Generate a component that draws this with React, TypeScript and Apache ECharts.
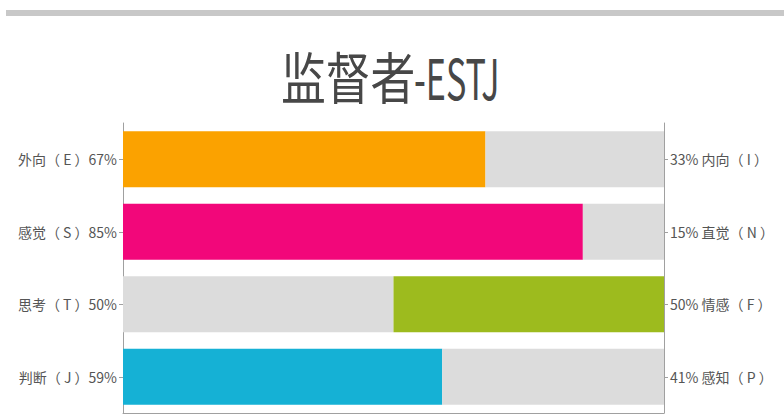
import React, { useEffect, useRef } from "react";
import * as echarts from "echarts";

const titleCjk = "监督者";
const titleLatin = "-ESTJ";
const leftNames = ["外向（ E ）", "感觉（ S ）", "思考（ T ）", "判断（ J ）"];
const rightNames = ["内向（ I ）", "直觉（ N ）", "情感（ F ）", "感知（ P ）"];
const leftValues = [67, 85, 50, 59];
const rightValues = [33, 15, 50, 41];
const leftColors = ["#FBA200", "#F2077A", "#DCDCDC", "#15B1D5"];
const rightColors = ["#DCDCDC", "#DCDCDC", "#9DBB1E", "#DCDCDC"];

const FONT = "'Noto Sans CJK SC', 'Noto Sans', sans-serif";

export default function App() {
  const ref = useRef<HTMLDivElement>(null);
  useEffect(() => {
    if (!ref.current) return;
    const chart = echarts.init(ref.current, undefined, { renderer: "svg" });
    const leftLabels = leftNames.map((n, i) => `${n}${leftValues[i]}%`);
    const rightLabels = rightNames.map((n, i) => `${rightValues[i]}% ${n}`);
    chart.setOption({
      animation: false,
      backgroundColor: "#ffffff",
      grid: { left: 123, right: 120, top: 123, bottom: 3, containLabel: false },
      graphic: [
        {
          type: "rect",
          shape: { x: 6, y: 10, width: 778, height: 6 },
          style: { fill: "#C8C8C8" },
          silent: true,
        },
        {
          type: "text",
          x: 281,
          y: 75,
          scaleX: 0.8,
          style: {
            text: titleCjk,
            fontSize: 56,
            fontFamily: FONT,
            fill: "#474747",
            verticalAlign: "middle",
          },
        },
        {
          type: "text",
          x: 414,
          y: 75,
          scaleX: 0.61,
          style: {
            text: titleLatin,
            fontSize: 56,
            fontFamily: FONT,
            fill: "#474747",
            verticalAlign: "middle",
          },
        },
      ],
      xAxis: {
        type: "value",
        min: 0,
        max: 100,
        axisLine: { show: true, lineStyle: { color: "#A0A0A0", width: 1 } },
        axisTick: { show: false },
        axisLabel: { show: false },
        splitLine: { show: false },
      },
      yAxis: [
        {
          type: "category",
          data: leftLabels,
          inverse: true,
          position: "left",
          axisLine: { show: true, lineStyle: { color: "#A0A0A0" } },
          axisTick: { show: true, alignWithLabel: true, length: 4, lineStyle: { color: "#A0A0A0" } },
          axisLabel: { color: "#555555", fontSize: 14, fontFamily: FONT, margin: 6 },
        },
        {
          type: "category",
          data: rightLabels,
          inverse: true,
          position: "right",
          axisLine: { show: true, lineStyle: { color: "#A0A0A0" } },
          axisTick: { show: true, alignWithLabel: true, length: 4, lineStyle: { color: "#A0A0A0" } },
          axisLabel: { color: "#555555", fontSize: 14, fontFamily: FONT, margin: 6 },
        },
      ],
      series: [
        {
          type: "bar",
          stack: "total",
          yAxisIndex: 0,
          barCategoryGap: "23%",
          data: leftValues.map((v, i) => ({ value: v, itemStyle: { color: leftColors[i] } })),
        },
        {
          type: "bar",
          stack: "total",
          yAxisIndex: 0,
          barCategoryGap: "23%",
          data: rightValues.map((v, i) => ({ value: v, itemStyle: { color: rightColors[i] } })),
        },
      ],
    });
    return () => chart.dispose();
  }, []);
  return <div ref={ref} style={{ width: 784, height: 416, position: "fixed", left: 0, top: 0 }} />;
}
